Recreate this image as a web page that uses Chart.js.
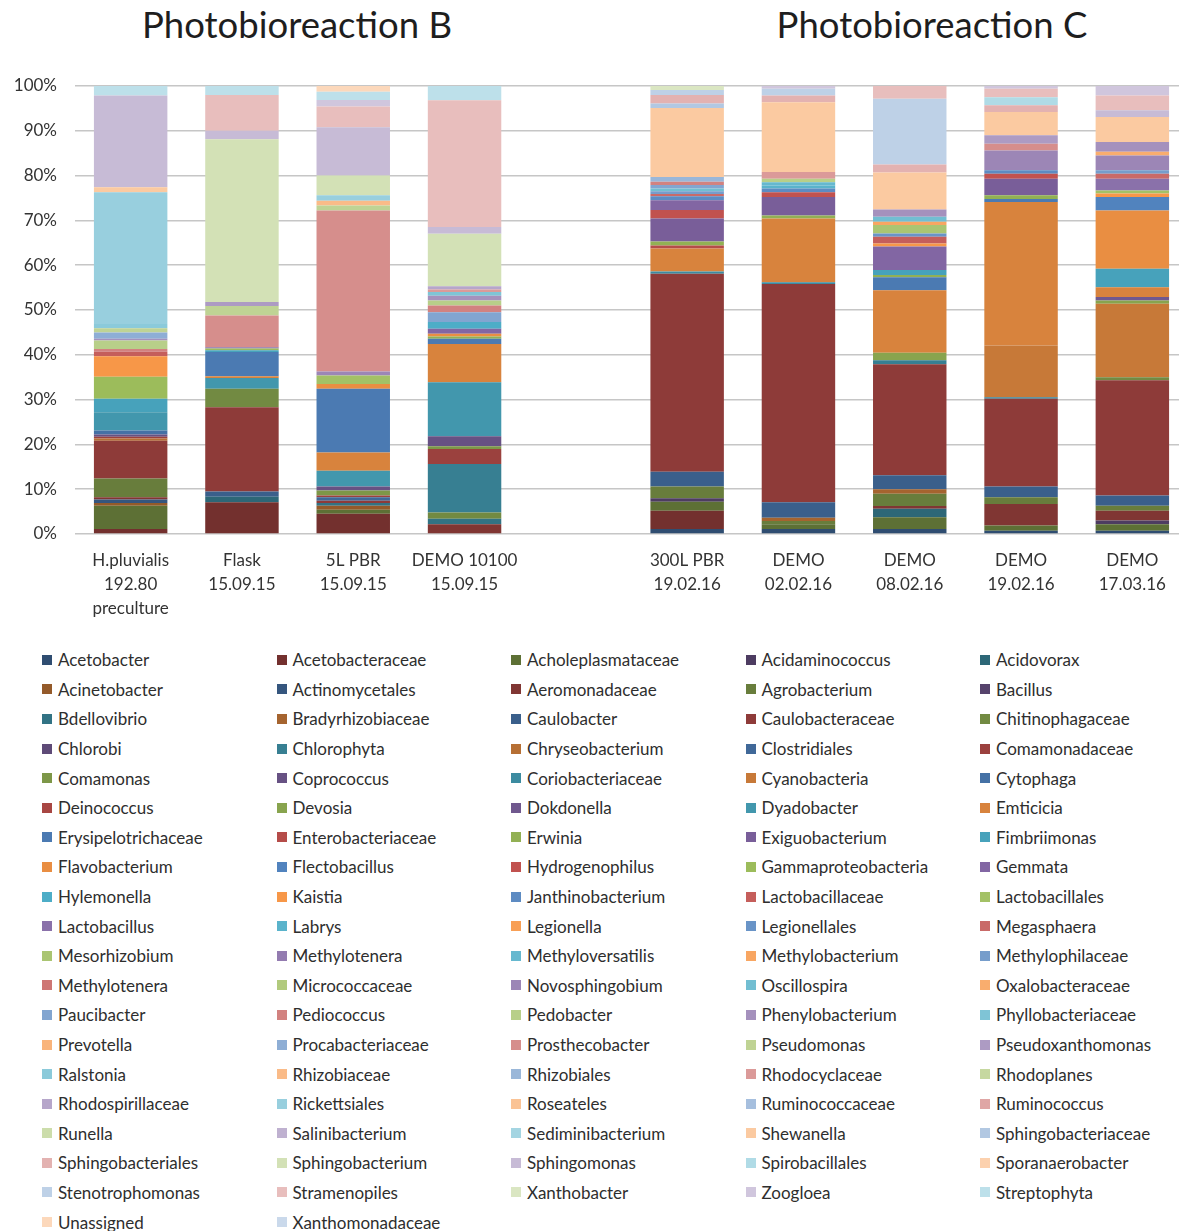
<!DOCTYPE html>
<html>
<head>
<meta charset="utf-8">
<title>Photobioreaction B / C – community composition</title>
<script src="https://cdn.jsdelivr.net/npm/chart.js@4/dist/chart.umd.min.js"></script>
<style>
  html, body { margin: 0; padding: 0; background: #fff; overflow: hidden; }
  body { width: 1179px; height: 1231px; position: relative; font-family: Lato, "Open Sans", sans-serif; color: #333; }
  #plot { position: absolute; left: 0; top: 0; }
  .group-title { position: absolute; top: 2px; font-size: 36.5px; color: #1e1e1e; transform: translateX(-50%); white-space: nowrap; }
  #legend { position: absolute; left: 42px; top: 645px; display: grid; grid-template-columns: repeat(5, 234.5px); grid-auto-rows: 29.6px; }
  .item { display: flex; align-items: center; font-size: 17px; color: #2e2e2e; white-space: nowrap; height: 29.6px; }
  .sw { width: 10px; height: 10px; margin-right: 6px; flex: none; }
</style>
</head>
<body>
<div class="group-title" style="left:297px">Photobioreaction B</div>
<div class="group-title" style="left:932px">Photobioreaction C</div>
<canvas id="plot" width="1188" height="625"></canvas>
<div id="legend"></div>
<script>
// Sample labels (multi-line); the blank slot separates the two reactor groups
const categories = [
  ['H.pluvialis', '192.80', 'preculture'],
  ['Flask', '15.09.15'],
  ['5L PBR', '15.09.15'],
  ['DEMO 10100', '15.09.15'],
  '',
  ['300L PBR', '19.02.16'],
  ['DEMO', '02.02.16'],
  ['DEMO', '08.02.16'],
  ['DEMO', '19.02.16'],
  ['DEMO', '17.03.16']
];

// Taxa in series order (first series sits at the bottom of each stack)
const taxa = [
  'Acetobacter', 'Acetobacteraceae', 'Acholeplasmataceae', 'Acidaminococcus', 'Acidovorax',
  'Acinetobacter', 'Actinomycetales', 'Aeromonadaceae', 'Agrobacterium', 'Bacillus',
  'Bdellovibrio', 'Bradyrhizobiaceae', 'Caulobacter', 'Caulobacteraceae', 'Chitinophagaceae',
  'Chlorobi', 'Chlorophyta', 'Chryseobacterium', 'Clostridiales', 'Comamonadaceae',
  'Comamonas', 'Coprococcus', 'Coriobacteriaceae', 'Cyanobacteria', 'Cytophaga',
  'Deinococcus', 'Devosia', 'Dokdonella', 'Dyadobacter', 'Emticicia',
  'Erysipelotrichaceae', 'Enterobacteriaceae', 'Erwinia', 'Exiguobacterium', 'Fimbriimonas',
  'Flavobacterium', 'Flectobacillus', 'Hydrogenophilus', 'Gammaproteobacteria', 'Gemmata',
  'Hylemonella', 'Kaistia', 'Janthinobacterium', 'Lactobacillaceae', 'Lactobacillales',
  'Lactobacillus', 'Labrys', 'Legionella', 'Legionellales', 'Megasphaera',
  'Mesorhizobium', 'Methylotenera', 'Methyloversatilis', 'Methylobacterium', 'Methylophilaceae',
  'Methylotenera', 'Micrococcaceae', 'Novosphingobium', 'Oscillospira', 'Oxalobacteraceae',
  'Paucibacter', 'Pediococcus', 'Pedobacter', 'Phenylobacterium', 'Phyllobacteriaceae',
  'Prevotella', 'Procabacteriaceae', 'Prosthecobacter', 'Pseudomonas', 'Pseudoxanthomonas',
  'Ralstonia', 'Rhizobiaceae', 'Rhizobiales', 'Rhodocyclaceae', 'Rhodoplanes',
  'Rhodospirillaceae', 'Rickettsiales', 'Roseateles', 'Ruminococcaceae', 'Ruminococcus',
  'Runella', 'Salinibacterium', 'Sediminibacterium', 'Shewanella', 'Sphingobacteriaceae',
  'Sphingobacteriales', 'Sphingobacterium', 'Sphingomonas', 'Spirobacillales', 'Sporanaerobacter',
  'Stenotrophomonas', 'Stramenopiles', 'Xanthobacter', 'Zoogloea', 'Streptophyta',
  'Unassigned', 'Xanthomonadaceae'
];

// Relative abundance (%) per sample; taxa not listed are absent
const hPluvialisPreculture = [
  ['Acetobacteraceae', 1.1], ['Acholeplasmataceae', 5.2], ['Acinetobacter', 0.6], ['Actinomycetales', 0.8],
  ['Aeromonadaceae', 0.5], ['Agrobacterium', 4.2], ['Caulobacteraceae', 8.4], ['Chryseobacterium', 0.5],
  ['Comamonadaceae', 0.4], ['Coprococcus', 0.5], ['Cytophaga', 0.9], ['Dyadobacter', 4.1],
  ['Fimbriimonas', 3.0], ['Gammaproteobacteria', 4.9], ['Kaistia', 4.6], ['Lactobacillaceae', 1.0],
  ['Pediococcus', 0.6], ['Pedobacter', 1.9], ['Phenylobacterium', 0.4], ['Procabacteriaceae', 1.4],
  ['Pseudomonas', 0.9], ['Ralstonia', 1.0], ['Rickettsiales', 29.4], ['Shewanella', 1.1],
  ['Sphingomonas', 20.5], ['Streptophyta', 2.1]
];
const flask150915 = [
  ['Acetobacteraceae', 7.1], ['Acidovorax', 1.2], ['Caulobacter', 1.2], ['Caulobacteraceae', 18.8],
  ['Chitinophagaceae', 4.1], ['Dyadobacter', 2.4], ['Emticicia', 0.4], ['Erysipelotrichaceae', 5.4],
  ['Fimbriimonas', 0.4], ['Gammaproteobacteria', 0.4], ['Lactobacillus', 0.3], ['Prosthecobacter', 7.1],
  ['Pseudomonas', 2.1], ['Pseudoxanthomonas', 0.9], ['Sphingobacterium', 36.3], ['Sphingomonas', 1.9],
  ['Stramenopiles', 8.0], ['Streptophyta', 2.0]
];
const pbr5L150915 = [
  ['Acetobacteraceae', 4.5], ['Acholeplasmataceae', 0.9], ['Acinetobacter', 0.9], ['Bdellovibrio', 0.6],
  ['Caulobacteraceae', 0.5], ['Clostridiales', 0.8], ['Comamonadaceae', 0.4], ['Comamonas', 1.1],
  ['Coprococcus', 0.9], ['Dyadobacter', 3.5], ['Emticicia', 4.1], ['Erysipelotrichaceae', 14.2],
  ['Flavobacterium', 1.1], ['Lactobacillales', 1.9], ['Novosphingobium', 0.9], ['Prosthecobacter', 35.9],
  ['Pseudomonas', 1.1], ['Rhizobiaceae', 1.1], ['Rickettsiales', 1.2], ['Sphingobacterium', 4.4],
  ['Sphingomonas', 10.8], ['Stramenopiles', 4.6], ['Zoogloea', 1.5], ['Streptophyta', 1.8],
  ['Unassigned', 1.3]
];
const demo10100150915 = [
  ['Aeromonadaceae', 2.2], ['Bdellovibrio', 1.2], ['Chitinophagaceae', 1.4], ['Chlorophyta', 10.8],
  ['Comamonadaceae', 3.4], ['Comamonas', 0.6], ['Coprococcus', 2.2], ['Dyadobacter', 12.1],
  ['Emticicia', 8.5], ['Erysipelotrichaceae', 1.2], ['Erwinia', 0.5], ['Flavobacterium', 0.6],
  ['Gemmata', 1.1], ['Hylemonella', 1.5], ['Paucibacter', 2.2], ['Pediococcus', 1.5],
  ['Pedobacter', 1.1], ['Phenylobacterium', 1.1], ['Phyllobacteriaceae', 0.8], ['Rhodocyclaceae', 0.6],
  ['Rhodospirillaceae', 0.7], ['Sphingobacterium', 11.7], ['Sphingomonas', 1.5], ['Stramenopiles', 28.3],
  ['Streptophyta', 3.2]
];
const pbr300L190216 = [
  ['Acetobacter', 1.1], ['Acetobacteraceae', 4.1], ['Acholeplasmataceae', 2.0], ['Acidaminococcus', 0.8],
  ['Agrobacterium', 2.6], ['Caulobacter', 3.3], ['Caulobacteraceae', 44.2], ['Coriobacteriaceae', 0.5],
  ['Emticicia', 5.1], ['Enterobacteriaceae', 0.7], ['Erwinia', 0.9], ['Exiguobacterium', 5.1],
  ['Hydrogenophilus', 1.9], ['Gemmata', 2.2], ['Janthinobacterium', 0.9], ['Megasphaera', 0.5],
  ['Methylophilaceae', 0.6], ['Oscillospira', 0.6], ['Paucibacter', 0.8], ['Pediococcus', 0.7],
  ['Rhizobiales', 1.1], ['Shewanella', 15.4], ['Sphingobacteriaceae', 1.0], ['Sphingobacteriales', 1.9],
  ['Stenotrophomonas', 1.1], ['Xanthobacter', 0.9]
];
const demo020216 = [
  ['Acetobacter', 1.1], ['Acholeplasmataceae', 1.1], ['Agrobacterium', 0.7], ['Bradyrhizobiaceae', 0.7],
  ['Caulobacter', 3.5], ['Caulobacteraceae', 48.7], ['Coriobacteriaceae', 0.4], ['Emticicia', 14.2],
  ['Erwinia', 0.7], ['Exiguobacterium', 4.1], ['Hydrogenophilus', 1.1], ['Janthinobacterium', 0.8],
  ['Labrys', 0.7], ['Methyloversatilis', 0.7], ['Pedobacter', 0.8], ['Rhodocyclaceae', 1.5],
  ['Shewanella', 15.6], ['Sphingobacteriales', 1.5], ['Stenotrophomonas', 1.5], ['Zoogloea', 0.6]
];
const demo080216 = [
  ['Acetobacter', 1.1], ['Acholeplasmataceae', 2.6], ['Acidovorax', 1.9], ['Aeromonadaceae', 0.6],
  ['Agrobacterium', 2.7], ['Bradyrhizobiaceae', 1.0], ['Caulobacter', 3.1], ['Caulobacteraceae', 24.6],
  ['Chlorophyta', 0.9], ['Devosia', 1.7], ['Emticicia', 13.8], ['Erysipelotrichaceae', 2.9],
  ['Erwinia', 0.5], ['Fimbriimonas', 1.1], ['Gemmata', 5.2], ['Kaistia', 0.7],
  ['Lactobacillaceae', 1.5], ['Legionellales', 0.7], ['Mesorhizobium', 1.9], ['Methylobacterium', 0.7],
  ['Oscillospira', 1.1], ['Phenylobacterium', 1.6], ['Shewanella', 8.2], ['Sphingobacteriales', 1.8],
  ['Stenotrophomonas', 14.6], ['Stramenopiles', 2.8]
];
const demo190216 = [
  ['Acetobacter', 0.7], ['Acholeplasmataceae', 1.2], ['Aeromonadaceae', 4.8], ['Agrobacterium', 1.5],
  ['Caulobacter', 2.4], ['Caulobacteraceae', 19.6], ['Chlorophyta', 0.3], ['Cyanobacteria', 11.6],
  ['Emticicia', 32.0], ['Erysipelotrichaceae', 0.7], ['Erwinia', 0.8], ['Exiguobacterium', 3.7],
  ['Hydrogenophilus', 1.1], ['Janthinobacterium', 0.8], ['Novosphingobium', 4.4], ['Prosthecobacter', 1.5],
  ['Pseudoxanthomonas', 1.9], ['Shewanella', 5.2], ['Sphingobacteriales', 1.5], ['Spirobacillales', 1.8],
  ['Stramenopiles', 1.9], ['Zoogloea', 0.6]
];
const demo170316 = [
  ['Acetobacter', 0.7], ['Acholeplasmataceae', 1.5], ['Acidaminococcus', 0.8], ['Aeromonadaceae', 2.2],
  ['Agrobacterium', 1.1], ['Caulobacter', 2.3], ['Caulobacteraceae', 25.7], ['Chitinophagaceae', 0.7],
  ['Cyanobacteria', 16.4], ['Devosia', 0.7], ['Dokdonella', 0.8], ['Emticicia', 2.2],
  ['Fimbriimonas', 4.1], ['Flavobacterium', 13.0], ['Flectobacillus', 3.0], ['Kaistia', 0.8],
  ['Lactobacillales', 0.7], ['Lactobacillus', 2.6], ['Megasphaera', 1.1], ['Methylophilaceae', 0.8],
  ['Novosphingobium', 3.3], ['Oxalobacteraceae', 0.8], ['Phenylobacterium', 2.2], ['Shewanella', 5.6],
  ['Sphingomonas', 1.5], ['Stramenopiles', 3.3], ['Zoogloea', 2.1]
];

const samples = [
  hPluvialisPreculture, flask150915, pbr5L150915, demo10100150915, null,
  pbr300L190216, demo020216, demo080216, demo190216, demo170316
];

// Office-style accent colours, darkest variants first and lightest last
const accents = [[79, 129, 189], [192, 80, 77], [155, 187, 89], [128, 100, 162], [75, 172, 198], [247, 150, 70]];
function seriesColour(i) {
  const base = accents[i % 6];
  const step = Math.floor(i / 6);
  const t = -0.4 + step * 1.1 / 16;
  const c = base.map(v => Math.round(t < 0 ? v * (1 + t) : v + (255 - v) * t));
  return `rgb(${c[0]},${c[1]},${c[2]})`;
}

// One dataset per taxon, each column expressed as a share of its total (100% stacked)
const matrix = taxa.map(() => categories.map(() => 0));
samples.forEach((sample, c) => {
  if (!sample) return;
  const total = sample.reduce((s, p) => s + p[1], 0);
  sample.forEach(([name, v]) => { matrix[taxa.indexOf(name)][c] = v / total * 100; });
});

const datasets = taxa.map((name, i) => ({
  label: name,
  data: matrix[i],
  backgroundColor: seriesColour(i),
  borderWidth: 0,
  barPercentage: 0.66,
  categoryPercentage: 1
}));

const textColour = '#333333';
const chart = new Chart(document.getElementById('plot'), {
  type: 'bar',
  data: { labels: categories, datasets },
  options: {
    responsive: false,
    animation: false,
    devicePixelRatio: 1,
    layout: { padding: { top: 86, right: 0, bottom: 0, left: 0 } },
    plugins: { legend: { display: false }, tooltip: { enabled: false } },
    scales: {
      x: {
        stacked: true,
        grid: { display: false, drawTicks: false },
        border: { display: false },
        ticks: { color: textColour, font: { family: 'Lato', size: 17, lineHeight: 1.42 }, padding: 14, maxRotation: 0, autoSkip: false },
        afterFit: s => { s.height = 91; }
      },
      y: {
        stacked: true,
        min: 0, max: 100,
        grid: { color: '#c6c6c6', lineWidth: 1.6, drawTicks: false },
        border: { display: false },
        ticks: { stepSize: 10, color: textColour, font: { family: 'Lato', size: 17 }, padding: 18,
                 callback: v => v + '%' },
        afterFit: s => { s.width = 75; }
      }
    }
  }
});

// Legend: five columns, read row by row in series order
const legend = document.getElementById('legend');
chart.data.datasets.forEach(ds => {
  const item = document.createElement('div');
  item.className = 'item';
  const sw = document.createElement('span');
  sw.className = 'sw';
  sw.style.background = ds.backgroundColor;
  item.appendChild(sw);
  item.appendChild(document.createTextNode(ds.label));
  legend.appendChild(item);
});
</script>
</body>
</html>
